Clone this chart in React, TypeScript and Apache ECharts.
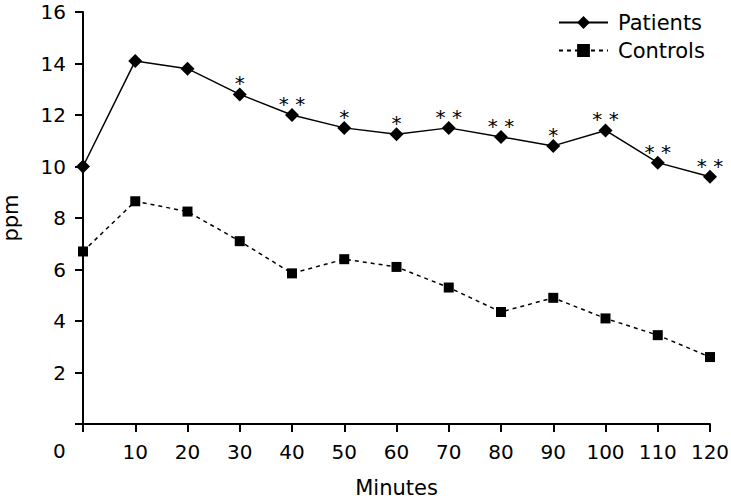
import React, { useEffect, useRef } from "react";
import * as echarts from "echarts";

const minutes = [0, 10, 20, 30, 40, 50, 60, 70, 80, 90, 100, 110, 120];
const patients = [10.0, 14.1, 13.8, 12.8, 12.0, 11.5, 11.25, 11.5, 11.15, 10.8, 11.4, 10.15, 9.6];
const controls = [6.7, 8.65, 8.25, 7.1, 5.85, 6.4, 6.1, 5.3, 4.35, 4.9, 4.1, 3.45, 2.6];
const significance = ["", "", "", "*", "* *", "*", "*", "* *", "* *", "*", "* *", "* *", "* *"];

const FONT = "'DejaVu Sans', 'Liberation Sans', Arial, sans-serif";

export default function App() {
  const ref = useRef<HTMLDivElement>(null);
  useEffect(() => {
    if (!ref.current) return;
    const chart = echarts.init(ref.current, null, { renderer: "svg" });
    chart.setOption({
      animation: false,
      backgroundColor: "#ffffff",
      textStyle: { fontFamily: FONT, color: "#000" },
      grid: {
        left: 83,
        right: 21,
        top: 12,
        bottom: 76,
        containLabel: false,
        outerBoundsMode: "none",
      },
      legend: {
        left: 553,
        top: 7,
        orient: "vertical",
        itemWidth: 49,
        itemHeight: 16,
        itemGap: 7,
        textStyle: { fontFamily: FONT, fontSize: 21, color: "#000", padding: [0, 0, 0, 5] },
        data: ["Patients", "Controls"],
      },
      xAxis: {
        type: "value",
        min: 0,
        max: 120,
        interval: 10,
        name: "Minutes",
        nameLocation: "middle",
        nameGap: 53,
        nameTextStyle: { fontFamily: FONT, fontSize: 21, color: "#000" },
        axisLine: { onZero: false, lineStyle: { color: "#000", width: 2 } },
        axisTick: { show: true, length: 8, lineStyle: { color: "#000", width: 2 } },
        axisLabel: {
          fontFamily: FONT,
          fontSize: 20,
          color: "#000",
          margin: 18,
          formatter: (v: number) => (v === 0 ? "" : String(v)),
        },
        splitLine: { show: false },
      },
      yAxis: {
        type: "value",
        min: 0,
        max: 16,
        interval: 2,
        name: "ppm",
        nameLocation: "middle",
        nameGap: 62,
        nameRotate: 90,
        nameTextStyle: { fontFamily: FONT, fontSize: 21, color: "#000" },
        axisLine: { onZero: false, lineStyle: { color: "#000", width: 2 } },
        axisTick: { show: true, length: 8, lineStyle: { color: "#000", width: 2 } },
        axisLabel: {
          fontFamily: FONT,
          fontSize: 20,
          color: "#000",
          margin: 17,
          formatter: (v: number) => (v === 0 ? "" : String(v)),
        },
        splitLine: { show: false },
      },
      graphic: [
        {
          type: "text",
          left: 53,
          top: 441,
          style: { text: "0", font: `20px ${FONT}`, fill: "#000" },
        },
      ],
      series: [
        {
          name: "Patients",
          type: "line",
          data: minutes.map((m, i) => [m, patients[i]]),
          symbol: "diamond",
          symbolSize: 14,
          itemStyle: { color: "#000" },
          lineStyle: { color: "#000", width: 1.5, type: "solid" },
          label: {
            show: true,
            position: "inside",
            offset: [0, -11],
            fontFamily: FONT,
            fontSize: 20,
            color: "#000",
            formatter: (p: any) => significance[p.dataIndex],
          },
          z: 3,
        },
        {
          name: "Controls",
          type: "line",
          data: minutes.map((m, i) => [m, controls[i]]),
          symbol: "rect",
          symbolSize: 10,
          itemStyle: { color: "#000" },
          lineStyle: { color: "#000", width: 1.5, type: [4, 4] },
          z: 2,
        },
      ],
    });
    return () => chart.dispose();
  }, []);
  return (
    <div
      ref={ref}
      style={{ position: "fixed", left: 0, top: 0, width: 731, height: 500 }}
    />
  );
}
